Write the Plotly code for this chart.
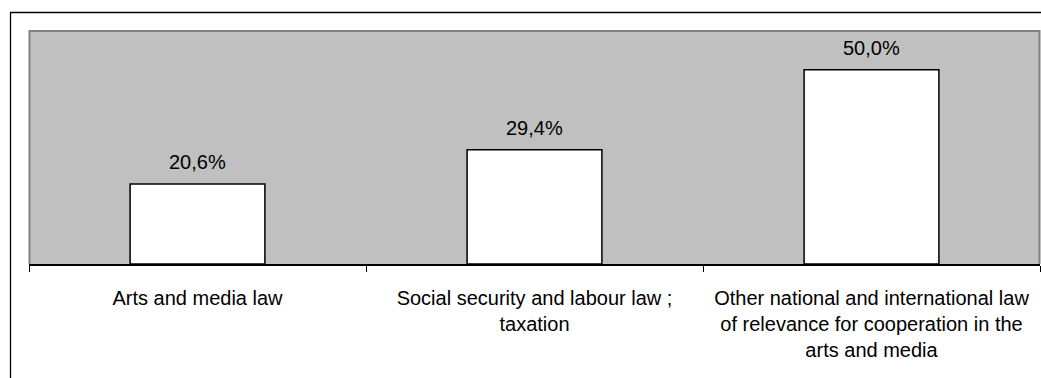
import plotly.graph_objects as go

categories = [
    "Arts and media law",
    "Social security and labour law ;<br>taxation",
    "Other national and international law<br>of relevance for cooperation in the<br>arts and media",
]
values = [20.6, 29.4, 50.0]
value_labels = ["20,6%", "29,4%", "50,0%"]

W, H = 1041, 378
L, R, T, B = 29, 1, 31, 114
PW, PH = W - L - R, H - T - B


def px(x):
    return (x - L) / PW


def py(y):
    return (H - B - y) / PH


FONT = "Arial, Liberation Sans, sans-serif"

fig = go.Figure()
fig.add_trace(go.Bar(
    x=categories,
    y=values,
    width=0.4,
    marker=dict(color="white", line=dict(color="black", width=1.5)),
    hoverinfo="skip",
))

for c, v, t in zip(categories, values, value_labels):
    fig.add_annotation(
        x=c, y=v, text=t, showarrow=False, yanchor="bottom",
        yshift=9, font=dict(family=FONT, size=20, color="black"),
    )

# plot-area border (grey, three sides)
fig.add_shape(
    type="path", xref="paper", yref="paper",
    path=f"M {px(29.5)},0 L {px(29.5)},{py(31)} L {px(1039.5)},{py(31)} L {px(1039.5)},0",
    line=dict(color="#808080", width=2), layer="above",
)
# outer chart frame
fig.add_shape(
    type="path", xref="paper", yref="paper",
    path=f"M {px(10.5)},{py(400)} L {px(10.5)},{py(12.5)} L {px(1060)},{py(12.5)}",
    line=dict(color="black", width=1.3), layer="above",
)

fig.update_layout(
    width=W, height=H,
    margin=dict(l=L, r=R, t=T, b=B),
    paper_bgcolor="white",
    plot_bgcolor="#C0C0C0",
    showlegend=False,
    font=dict(family=FONT, size=20, color="black"),
    xaxis=dict(
        type="category",
        range=[-0.5, 2.5],
        tickson="boundaries",
        ticks="outside", ticklen=6, tickcolor="black", tickwidth=1,
        showline=True, linecolor="black", linewidth=1.5,
        showgrid=False, zeroline=False,
        tickfont=dict(family=FONT, size=20, color="black"),
        ticklabelstandoff=15,
    ),
    yaxis=dict(
        range=[0, 60],
        showticklabels=False, showgrid=False, zeroline=False,
        showline=False, ticks="",
    ),
)

fig.write_html("out.html")
